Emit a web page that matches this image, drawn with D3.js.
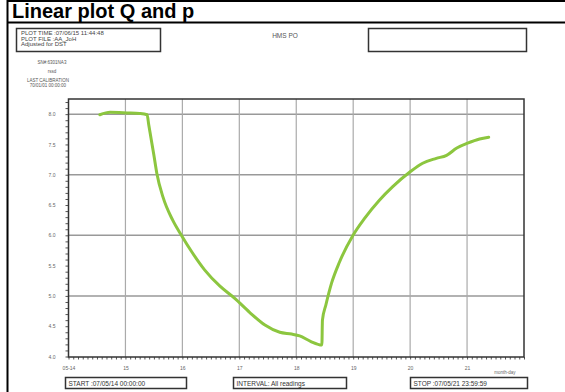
<!DOCTYPE html>
<html><head><meta charset="utf-8">
<script src="https://cdn.jsdelivr.net/npm/d3@7"></script>
<style>
html,body{margin:0;padding:0;background:#fff;}
svg{display:block;font-family:"Liberation Sans",Arial,sans-serif;}
</style></head>
<body><svg id="c" width="565" height="392"></svg>
<script>
// ---- data ----
const title = "Linear plot Q and p";
const headerLines = ["PLOT TIME :07/06/15 11:44:48", "PLOT FILE :AA_JoH", "Adjusted for DST"];
const centerLabel = "HMS PO";
const sideLines = ["SN#:6301NA3", "rssd", "LAST CALIBRATION", "70/01/01 00:00:00"];
const footerLabels = ["START :07/05/14 00:00:00", "INTERVAL: All readings", "STOP :07/05/21 23:59:59"];
const xTickDays = [14, 15, 16, 17, 18, 19, 20, 21];
const xTickLabels = ["05-14", "15", "16", "17", "18", "19", "20", "21"];
const yTickValues = [4.0, 4.5, 5.0, 5.5, 6.0, 6.5, 7.0, 7.5, 8.0];
const yGridValues = [5, 6, 7, 8];
const xUnitLabel = "month-day";
// day-of-month (fractional) and reading
const days = [14.55, 14.73, 15.03, 15.25, 15.38, 15.41, 15.45, 15.50, 15.55, 15.66, 15.83, 15.99, 16.17, 16.39, 16.66, 16.92, 17.18, 17.45, 17.71, 17.92, 18.06, 18.25, 18.45, 18.46, 18.52, 18.62, 18.76, 18.99, 19.20, 19.46, 19.69, 19.99, 20.22, 20.46, 20.64, 20.82, 21.01, 21.22, 21.38];
const values = [7.99, 8.03, 8.02, 8.01, 7.99, 7.82, 7.60, 7.32, 7.03, 6.63, 6.25, 5.99, 5.72, 5.43, 5.16, 4.96, 4.73, 4.52, 4.40, 4.37, 4.34, 4.25, 4.19, 4.60, 4.85, 5.21, 5.56, 5.99, 6.28, 6.58, 6.80, 7.04, 7.19, 7.27, 7.32, 7.44, 7.52, 7.59, 7.62];

// ---- drawing ----
const svg = d3.select("#c");
const L = 68.5, R = 524, T = 99, B = 357;
const x = d3.scaleLinear().domain([14, 22]).range([L, R]);
const y = d3.scaleLinear().domain([4, 8.25]).range([356.5, T]);

// outer frame
svg.append("line").attr("x1",7.5).attr("x2",7.5).attr("y1",0).attr("y2",392).attr("stroke","#000").attr("stroke-width",2);
svg.append("line").attr("x1",7).attr("x2",565).attr("y1",1).attr("y2",1).attr("stroke","#000").attr("stroke-width",2);
svg.append("line").attr("x1",7).attr("x2",565).attr("y1",22.5).attr("y2",22.5).attr("stroke","#000").attr("stroke-width",2);
svg.append("text").attr("x",12).attr("y",18).attr("font-size",20).attr("font-weight","bold").attr("fill","#000").text(title);

// header boxes
svg.append("rect").attr("x",16.5).attr("y",28.5).attr("width",144).attr("height",23).attr("fill","none").attr("stroke","#333").attr("stroke-width",1.5);
headerLines.forEach((t,i)=>svg.append("text").attr("x",21).attr("y",35+i*5.5).attr("font-size",6).attr("fill","#444").text(t));
svg.append("text").attr("x",285).attr("y",38).attr("text-anchor","middle").attr("font-size",6.5).attr("fill","#555").text(centerLabel);
svg.append("rect").attr("x",368.5).attr("y",28.5).attr("width",158).attr("height",23).attr("fill","none").attr("stroke","#333").attr("stroke-width",1.5);
const sideY=[64,73,82,86.5];
sideLines.forEach((t,i)=>svg.append("text").attr("x",i<2?52:48).attr("y",sideY[i]).attr("text-anchor","middle").attr("font-size",4.5).attr("fill","#555").text(t));

// gridlines
svg.append("g").selectAll("line").data(yGridValues).join("line")
  .attr("x1",L).attr("x2",R).attr("y1",d=>y(d)).attr("y2",d=>y(d))
  .attr("stroke","#999").attr("stroke-width",1.5);
svg.append("g").selectAll("line").data(xTickDays.slice(1)).join("line")
  .attr("x1",d=>x(d)).attr("x2",d=>x(d)).attr("y1",T).attr("y2",B)
  .attr("stroke","#aaa").attr("stroke-width",1.2);

// y axis
const yMinor = d3.range(40, 83).map(v=>v/10);
const yAxis = d3.axisLeft(y).tickValues(yMinor).tickSize(3).tickFormat(d=>yTickValues.some(t=>Math.abs(t-d)<1e-6)?d3.format(".1f")(d):"");
const gy = svg.append("g").attr("transform",`translate(${L},0)`).call(yAxis);
gy.select(".domain").remove();
gy.selectAll(".tick line").attr("stroke","#555");
gy.selectAll(".tick text").attr("font-size",5).attr("fill","#666").attr("x",-13);

// x axis
const xMinor = d3.range(14*12, 22*12+1).map(v=>v/12);
const xAxis = d3.axisBottom(x).tickValues(xMinor).tickSize(2.5).tickFormat(d=>{const i=xTickDays.findIndex(t=>Math.abs(t-d)<1e-6);return i>=0?xTickLabels[i]:"";});
const gx = svg.append("g").attr("transform",`translate(0,${B})`).call(xAxis);
gx.select(".domain").remove();
gx.selectAll(".tick line").attr("stroke","#555");
gx.selectAll(".tick text").attr("font-size",5).attr("fill","#666").attr("y",9);
svg.append("text").attr("x",505).attr("y",374).attr("text-anchor","middle").attr("font-size",4.5).attr("fill","#666").text(xUnitLabel);

// plot frame
svg.append("rect").attr("x",L).attr("y",T).attr("width",R-L).attr("height",B-T).attr("fill","none").attr("stroke","#333").attr("stroke-width",1.5);

// curve
const line = d3.line().x((d,i)=>x(days[i])).y((d,i)=>y(values[i])).curve(d3.curveMonotoneX);
svg.append("path").datum(values).attr("d",line).attr("fill","none").attr("stroke","#8cc63f").attr("stroke-width",3).attr("stroke-linejoin","round").attr("stroke-linecap","round");

// footer boxes
const fb = [[65.5,121],[233.5,113],[410.5,117]];
fb.forEach((b,i)=>{
  svg.append("rect").attr("x",b[0]).attr("y",377.5).attr("width",b[1]).attr("height",11).attr("fill","none").attr("stroke","#333").attr("stroke-width",1.5);
  svg.append("text").attr("x",b[0]+3).attr("y",385.5).attr("font-size",6.5).attr("fill","#333").text(footerLabels[i]);
});
</script></body></html>
